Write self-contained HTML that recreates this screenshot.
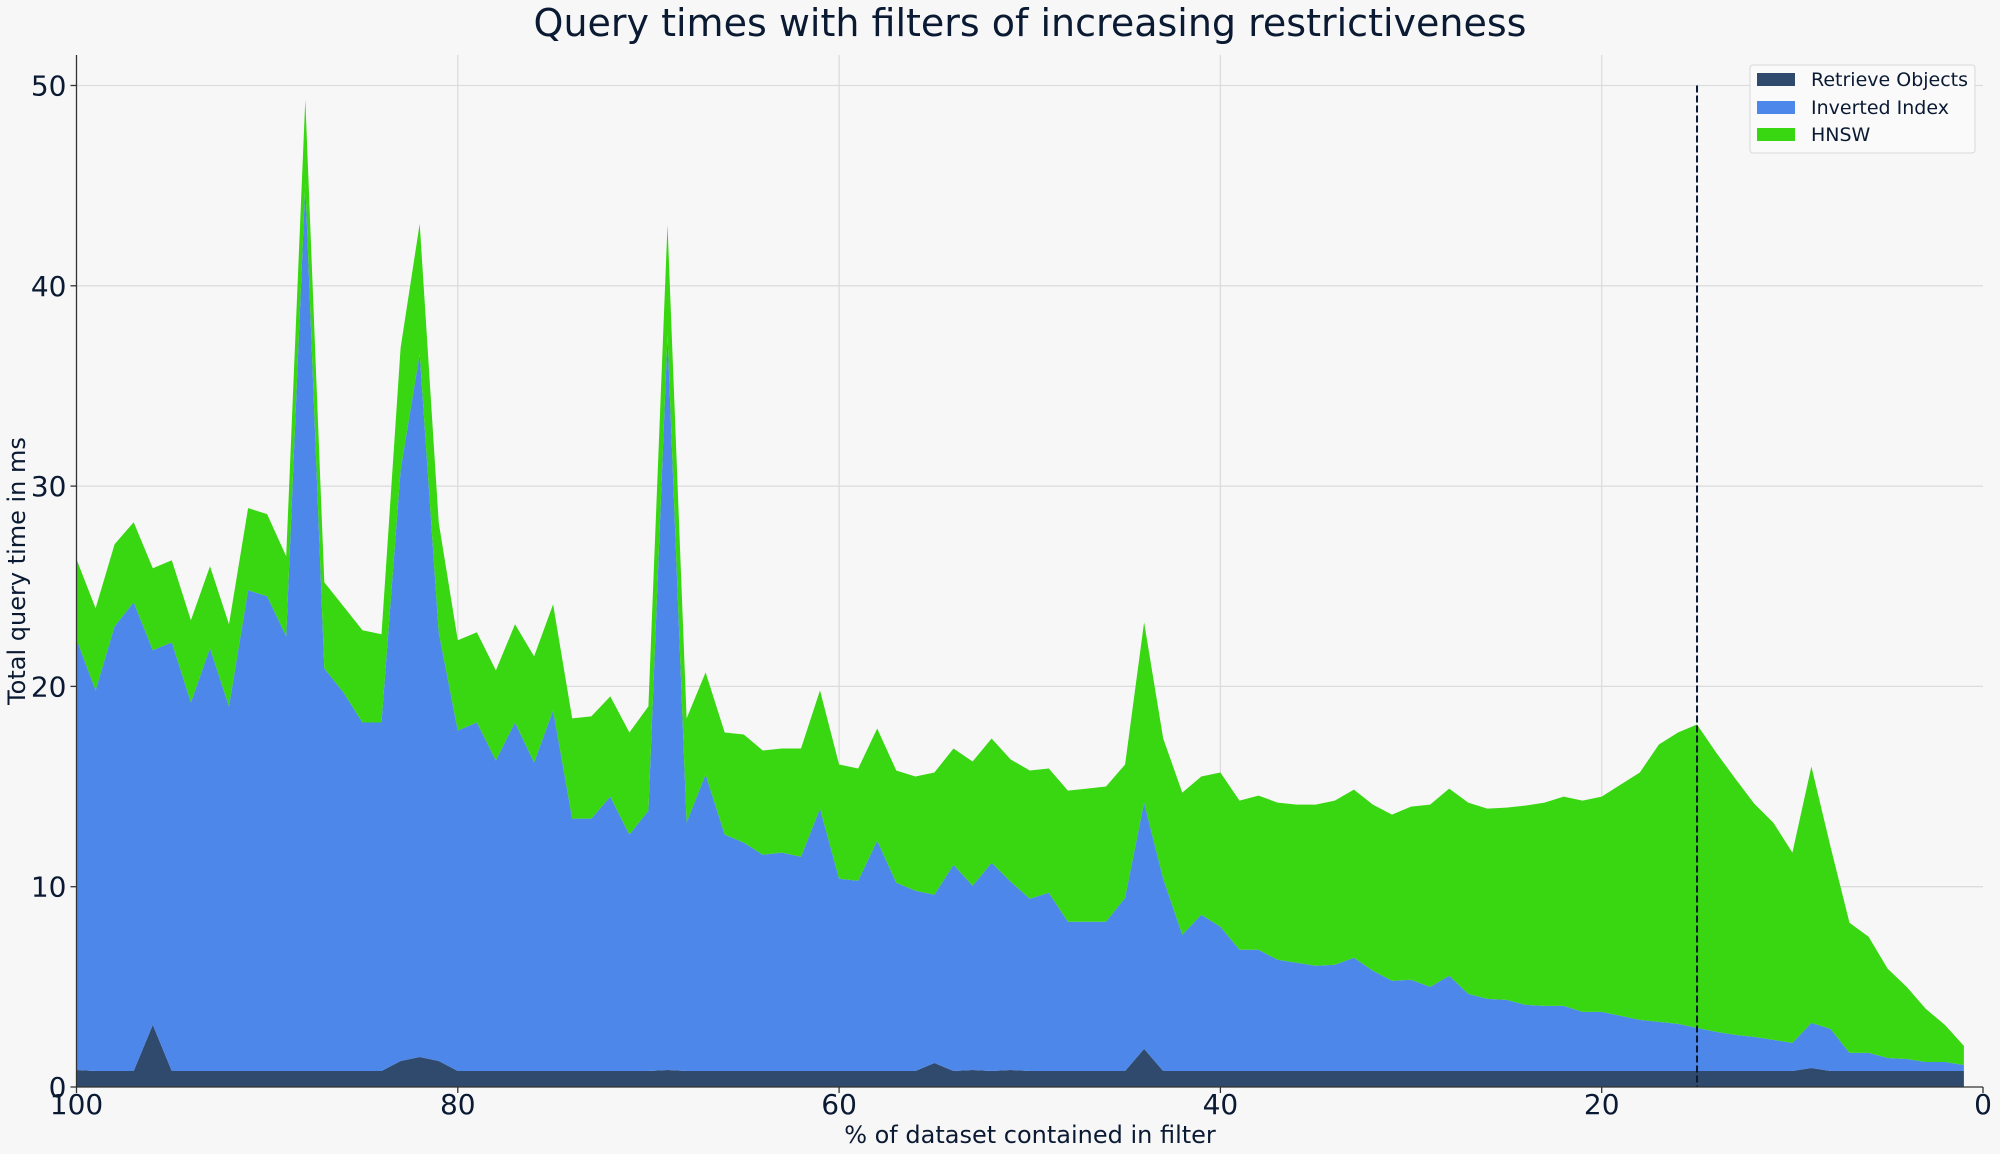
<!DOCTYPE html>
<html><head><meta charset="utf-8"><style>
html,body{margin:0;padding:0;background:#f7f7f7;}
svg{display:block;font-family:"DejaVu Sans","Liberation Sans",sans-serif;}
</style></head><body>
<svg id="chart" width="2000" height="1154" viewBox="0 0 2000 1154" xmlns="http://www.w3.org/2000/svg">
<rect width="2000" height="1154" fill="#f7f7f7"/>
<text x="1030" y="36" text-anchor="middle" font-size="38" fill="#0b1a33">Query times with filters of increasing restrictiveness</text>
<g id="grid"></g>
<g id="areas"></g>
<g id="axes"></g>
<text x="1030" y="1143" text-anchor="middle" font-size="24" fill="#0b1a33">% of dataset contained in filter</text>
<text transform="translate(25,571) rotate(-90)" text-anchor="middle" font-size="24" fill="#0b1a33">Total query time in ms</text>
<g>
<rect x="1750" y="65" width="225" height="88" rx="3" fill="#fafafa" stroke="#d8d8d8"/>
<g><rect x="1757" y="73" width="38" height="13" fill="#2f4a6c"/><text x="1811" y="86" font-size="19" fill="#0b1a33">Retrieve Objects</text></g>
<g><rect x="1757" y="101" width="38" height="13" fill="#4d87ea"/><text x="1811" y="114" font-size="19" fill="#0b1a33">Inverted Index</text></g>
<g><rect x="1757" y="128" width="38" height="13" fill="#39d612"/><text x="1811" y="141" font-size="19" fill="#0b1a33">HNSW</text></g>
</g>
</svg>
<script>
const percents = Array.from({length:100}, (_, i) => 100 - i);
const retrieveObjects = [0.85,0.8,0.8,0.8,3.1,0.8,0.8,0.8,0.8,0.8,
0.8,0.8,0.8,0.8,0.8,0.8,0.8,1.3,1.5,1.3,
0.8,0.8,0.8,0.8,0.8,0.8,0.8,0.8,0.8,0.8,
0.8,0.85,0.8,0.8,0.8,0.8,0.8,0.8,0.8,0.8,
0.8,0.8,0.8,0.8,0.8,1.2,0.8,0.85,0.8,0.85,
0.8,0.8,0.8,0.8,0.8,0.8,1.9,0.8,0.8,0.8,
0.8,0.8,0.8,0.8,0.8,0.8,0.8,0.8,0.8,0.8,
0.8,0.8,0.8,0.8,0.8,0.8,0.8,0.8,0.8,0.8,
0.8,0.8,0.8,0.8,0.8,0.8,0.8,0.8,0.8,0.8,
0.8,0.95,0.8,0.8,0.8,0.8,0.8,0.8,0.8,0.8];
const invertedIndex = [21.5,19.0,22.2,23.4,18.7,21.4,18.4,21.1,18.2,24.0,
23.7,21.7,44.3,20.1,18.9,17.4,17.4,29.5,35.1,21.4,
17.0,17.4,15.5,17.4,15.4,18.0,12.6,12.6,13.7,11.8,
13.0,36.7,12.4,14.8,11.8,11.4,10.8,10.9,10.7,13.1,
9.6,9.5,11.5,9.4,9.0,8.4,10.3,9.2,10.4,9.4,
8.6,8.9,7.45,7.45,7.45,8.65,12.3,9.6,6.8,7.8,
7.2,6.05,6.05,5.55,5.4,5.25,5.3,5.65,5.0,4.5,
4.55,4.2,4.75,3.85,3.6,3.55,3.3,3.25,3.25,2.95,
2.95,2.75,2.55,2.45,2.35,2.15,1.95,1.8,1.7,1.55,
1.4,2.25,2.1,0.9,0.9,0.65,0.6,0.45,0.45,0.3];
const hnsw = [4.0,4.1,4.1,4.0,4.1,4.1,4.1,4.1,4.1,4.1,
4.1,4.0,4.2,4.3,4.3,4.6,4.4,6.1,6.5,5.5,
4.5,4.5,4.5,4.9,5.3,5.3,5.0,5.1,5.0,5.1,
5.2,5.5,5.2,5.1,5.1,5.4,5.2,5.2,5.4,5.9,
5.7,5.6,5.6,5.6,5.7,6.1,5.8,6.2,6.2,6.1,
6.4,6.2,6.55,6.65,6.75,6.65,9.0,7.0,7.1,6.9,
7.7,7.45,7.7,7.85,7.9,8.05,8.2,8.4,8.3,8.3,
8.65,9.1,9.35,9.55,9.5,9.6,9.95,10.15,10.45,10.55,
10.75,11.55,12.35,13.85,14.55,15.15,13.95,12.8,11.65,10.85,
9.5,12.8,9.1,6.5,5.8,4.45,3.6,2.65,1.85,0.95];
const xTicks = [100,80,60,40,20,0];
const yTicks = [0,10,20,30,40,50];
const thresholdPercent = 15;

const NS = "http://www.w3.org/2000/svg";
const L = 76.5, R = 1983, T = 55, B = 1087;
const xS = v => L + (100 - v) / 100 * (R - L);
const yS = v => B - v * 20.03;
function mk(tag, attrs, parent){ const e = document.createElementNS(NS, tag); for (const k in attrs) e.setAttribute(k, attrs[k]); parent.appendChild(e); return e; }
const grid = document.getElementById('grid'), areas = document.getElementById('areas'), axes = document.getElementById('axes');

yTicks.forEach(t => { if (t === 0) return;
  const g = mk('line', {x1:L, x2:R, y1:yS(t), y2:yS(t), stroke:'#dcdcdc', 'stroke-width':1.3}, grid);
  
  
});
xTicks.forEach(t => { if (t === 100 || t === 0) return;
  const g = mk('line', {x1:xS(t), x2:xS(t), y1:T, y2:B, stroke:'#dcdcdc', 'stroke-width':1.3}, grid);
  
  
});

const layers = [[retrieveObjects,'#2f4a6c','area-retrieve-objects'],[invertedIndex,'#4d87ea','area-inverted-index'],[hnsw,'#39d612','area-hnsw']];
const base = percents.map(() => 0);
layers.forEach(([vals, color, name]) => {
  const top = base.map((b, i) => b + vals[i]);
  let d = 'M' + percents.map((p, i) => xS(p).toFixed(1) + ',' + yS(top[i]).toFixed(1)).join('L');
  for (let i = percents.length - 1; i >= 0; i--) d += 'L' + xS(percents[i]).toFixed(1) + ',' + yS(base[i]).toFixed(1);
  d += 'Z';
  const p = mk('path', {d: d, fill: color}, areas);
  
  
  top.forEach((v, i) => base[i] = v);
});

const th = mk('line', {x1:xS(thresholdPercent), x2:xS(thresholdPercent), y1:yS(50), y2:B, stroke:'#0b1a33', 'stroke-width':2, 'stroke-dasharray':'7,3'}, areas);



const ls = mk('line', {x1:L, x2:L, y1:T, y2:B, stroke:'#333', 'stroke-width':1.3}, axes);


const bs = mk('line', {x1:L, x2:R, y1:B, y2:B, stroke:'#333', 'stroke-width':1.3}, axes);



yTicks.forEach(t => {
  const tk = mk('line', {x1:L - 6, x2:L, y1:yS(t), y2:yS(t), stroke:'#333', 'stroke-width':1.3}, axes);
  
  
  const tx = mk('text', {x:L - 10, y:yS(t) + 10, 'text-anchor':'end', 'font-size':28, fill:'#0b1a33'}, axes);
  tx.textContent = t;
  
  
});
xTicks.forEach(t => {
  const tk = mk('line', {x1:xS(t), x2:xS(t), y1:B, y2:B + 6, stroke:'#333', 'stroke-width':1.3}, axes);
  
  
  const tx = mk('text', {x:xS(t), y:B + 27, 'text-anchor':'middle', 'font-size':28, fill:'#0b1a33'}, axes);
  tx.textContent = t;
  
  
});
</script>
</body></html>
